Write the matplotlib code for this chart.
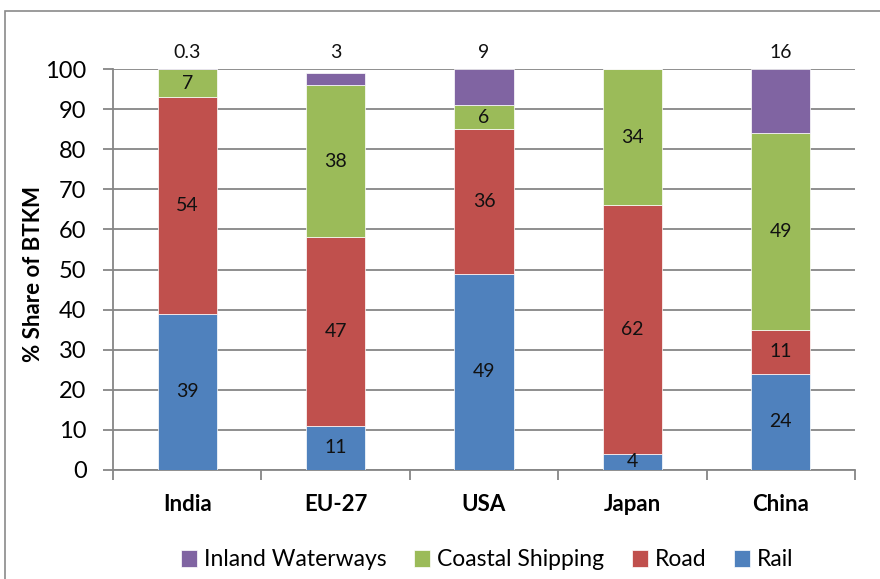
import matplotlib
matplotlib.use("Agg")
import matplotlib.pyplot as plt
from matplotlib.patches import Rectangle
import numpy as np

plt.rcParams['font.family'] = ['Lato', 'DejaVu Sans']

countries = ["India", "EU-27", "USA", "Japan", "China"]
rail = [39, 11, 49, 4, 24]
road = [54, 47, 36, 62, 11]
coastal = [7, 38, 6, 34, 49]
inland = [0.3, 3, 9, 0, 16]
inland_labels = ["0.3", "3", "9", "", "16"]

colors = {
    "Rail": "#4F81BD",
    "Road": "#C0504D",
    "Coastal Shipping": "#9BBB59",
    "Inland Waterways": "#8064A2",
}
grid_color = "#868686"

W, H = 880, 579
fig = plt.figure(figsize=(W / 100, H / 100), dpi=100)

# outer chart frame
fig.patches.append(Rectangle((5 / W, -0.05), 2, 1 - 11 / H + 0.05,
                             transform=fig.transFigure, fill=False,
                             edgecolor="#8a8a8a", linewidth=1.2))

ax = fig.add_axes([113 / W, (H - 470) / H, 742 / W, 401 / H])
x = np.arange(len(countries))
width = 0.4

series = [("Rail", rail), ("Road", road), ("Coastal Shipping", coastal),
          ("Inland Waterways", inland)]
bottom = np.zeros(len(countries))
bars = {}
for name, vals in series:
    vals = np.array(vals, dtype=float)
    bars[name] = ax.bar(x, vals, width, bottom=bottom, color=colors[name],
                        edgecolor="white", linewidth=0.5, zorder=3, label=name)
    if name != "Inland Waterways":
        for xi, b, v in zip(x, bottom, vals):
            if v > 0:
                ax.text(xi, b + v / 2, f"{v:g}", ha="center", va="center",
                        fontsize=14, color="#111111", zorder=4)
    bottom += vals

# inland waterway shares written above the stacks
for xi, lab in zip(x, inland_labels):
    if lab:
        ax.text(xi, 104.2, lab, ha="center", va="center", fontsize=14,
                color="#111111", clip_on=False)

ax.set_xlim(-0.5, len(countries) - 0.5)
ax.set_ylim(0, 100)
ax.set_yticks(np.arange(0, 101, 10))
ax.yaxis.grid(True, color=grid_color, linewidth=1.3, zorder=0)
ax.set_axisbelow(True)

ax.set_xticks(x)
ax.set_xticklabels(countries, fontsize=16, fontweight="bold")
ax.set_xticks(np.arange(-0.5, len(countries)), minor=True)
ax.tick_params(axis="x", which="major", length=0, pad=17)
ax.tick_params(axis="x", which="minor", length=7, width=1.3, color=grid_color)
ax.tick_params(axis="y", length=7, width=1.3, color=grid_color,
               labelsize=17, pad=12)

for s in ["top", "right"]:
    ax.spines[s].set_visible(False)
for s in ["left", "bottom"]:
    ax.spines[s].set_color(grid_color)
    ax.spines[s].set_linewidth(1.3)

ax.set_ylabel("% Share of BTKM", fontsize=16, fontweight="bold")
ax.yaxis.set_label_coords((44 - 113) / 742, 0.49)

handles = [bars["Inland Waterways"], bars["Coastal Shipping"], bars["Road"],
           bars["Rail"]]
labels = ["Inland Waterways", "Coastal Shipping", "Road", "Rail"]
fig.legend(handles, labels, loc="center", bbox_to_anchor=(487 / W, 1 - 560 / H),
           ncol=4, frameon=False, fontsize=16.5, handlelength=0.7,
           handleheight=0.7, handletextpad=0.3, columnspacing=1.2)

fig.savefig("out.png", dpi=100)
